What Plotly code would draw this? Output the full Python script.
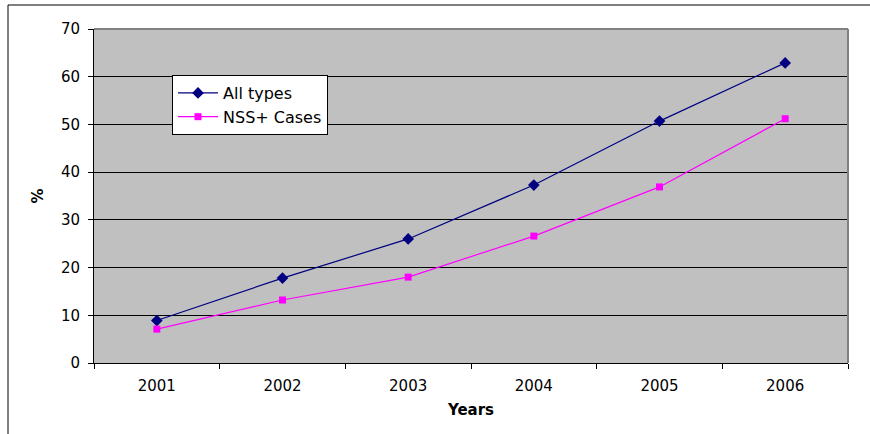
import plotly.graph_objects as go

years = ["2001", "2002", "2003", "2004", "2005", "2006"]
all_types = [8.9, 17.8, 26.0, 37.3, 50.7, 62.9]
nss_cases = [7.1, 13.2, 18.0, 26.6, 36.9, 51.2]

W, H = 870, 434
L, R, T, B = 94, 22, 29, 71
pw, ph = W - L - R, H - T - B

def px_x(p):
    return (p - L) / pw

def px_y(p):
    return (H - B - p) / ph

font = "DejaVu Sans"

fig = go.Figure()
fig.add_trace(go.Scatter(
    x=years, y=all_types, name="All types", mode="lines+markers",
    line=dict(color="#000080", width=1.2),
    marker=dict(symbol="diamond", size=9, color="#000080"),
))
fig.add_trace(go.Scatter(
    x=years, y=nss_cases, name="NSS+ Cases", mode="lines+markers",
    line=dict(color="#FF00FF", width=1.2),
    marker=dict(symbol="square", size=7, color="#FF00FF"),
))

fig.update_layout(
    width=W, height=H,
    margin=dict(l=L, r=R, t=T, b=B),
    paper_bgcolor="white",
    plot_bgcolor="#C0C0C0",
    font=dict(family=font, size=15, color="black"),
    showlegend=True,
    legend=dict(
        x=px_x(172), y=px_y(75), xanchor="left", yanchor="top",
        bgcolor="white", bordercolor="black", borderwidth=1,
        font=dict(family=font, size=16, color="black"),
        itemwidth=40,
    ),
    xaxis=dict(
        type="category", range=[-0.5, 5.5],
        showgrid=False, showline=True, linecolor="black", linewidth=1,
        ticks="outside", ticklen=5, tickcolor="black", tickson="boundaries",
        ticklabelstandoff=9,
        tickfont=dict(family=font, size=15),
        title=dict(text="<b>Years</b>", font=dict(family=font, size=15), standoff=10),
        zeroline=False,
    ),
    yaxis=dict(
        range=[0, 70], dtick=10, tick0=0,
        showgrid=True, gridcolor="black", gridwidth=1,
        showline=True, linecolor="black", linewidth=1,
        ticks="outside", ticklen=5, tickcolor="black",
        ticklabelstandoff=5,
        tickfont=dict(family=font, size=15),
        title=dict(text="<b>%</b>", font=dict(family=font, size=15), standoff=13),
        zeroline=False,
    ),
    shapes=[
        dict(type="line", xref="paper", yref="paper", x0=0, x1=1, y0=1, y1=1,
             line=dict(color="#808080", width=2)),
        dict(type="line", xref="paper", yref="paper", x0=1, x1=1, y0=0, y1=1,
             line=dict(color="#808080", width=2)),
        dict(type="line", xref="paper", yref="paper", x0=px_x(8), x1=px_x(870),
             y0=px_y(5), y1=px_y(5), line=dict(color="black", width=1)),
        dict(type="line", xref="paper", yref="paper", x0=px_x(8), x1=px_x(8),
             y0=px_y(5), y1=px_y(434), line=dict(color="black", width=1)),
    ],
)

fig.write_html("out.html", config={"displayModeBar": False},
               post_script="document.body.style.margin='0';")
